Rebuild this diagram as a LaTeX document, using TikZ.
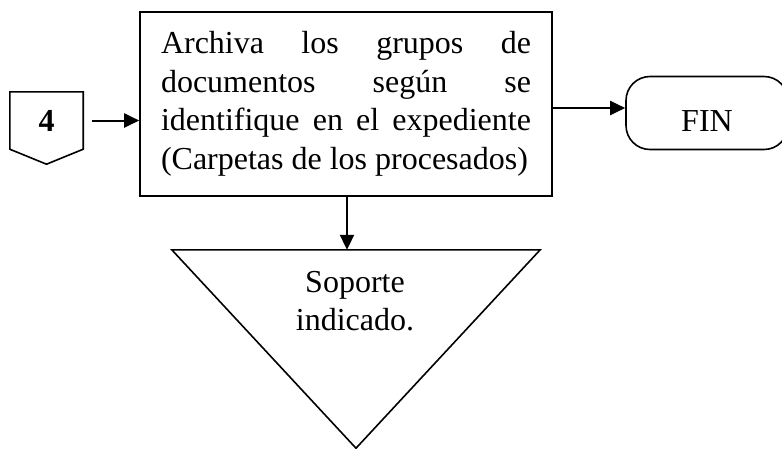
\documentclass[tikz,border=0pt]{standalone}
\usepackage{fontspec}
\setmainfont{Liberation Serif}
\usetikzlibrary{shapes,arrows,positioning,calc,arrows.meta}
\hyphenpenalty=10000
\tolerance=10000

\begin{document}
\begin{tikzpicture}[x=1pt,y=-1pt,
    font=\fontsize{32}{38.5}\selectfont,
    linea/.style={line width=1.6pt},
    flecha/.style={-{Triangle[length=15pt,width=14pt]}, line width=2pt},
    proceso/.style={draw, linea, minimum width=412pt, minimum height=184pt,
        text width=370pt, align=justify, inner sep=0pt},
    terminal/.style={draw, linea, rounded corners=24pt, minimum width=162pt,
        minimum height=73pt, inner sep=0pt, text height=37pt}]
    \useasboundingbox (0,0) rectangle (782,448);

    % conector de pagina
    \node[minimum width=73pt, minimum height=57pt, inner sep=0pt, font=\fontsize{32}{38.5}\selectfont\bfseries] (conector) at (46.5,120.5) {4};
    \draw[linea] (conector.north west) -- (conector.north east) -- (conector.south east)
        -- ($(conector.south)+(0,15)$) -- (conector.south west) -- cycle;

    % actividad
    \node[proceso] (caja) at (346,104) {Archiva los grupos de\linebreak documentos según se\linebreak identifique en el expediente\linebreak (Carpetas de los procesados)};

    % fin
    \node[terminal] (fin) at (707,113) {FIN};

    % almacenamiento
    \node[minimum width=368pt, minimum height=198pt, inner sep=0pt] (archivo) at (356,349) {};
    \draw[linea] (archivo.north west) -- (archivo.north east) -- (archivo.south) -- cycle;
    \node[align=center] (soporte) at (355,301) {Soporte\\indicado.};

    \draw[flecha, shorten <=9pt] (conector.east) -- (conector.east -| caja.west);
    \draw[flecha] ($(caja.east |- fin.west)+(0,-5)$) -- ($(fin.west)+(0,-5)$);
    \draw[flecha] (caja.south -| 347,0) -- (archivo.north -| 347,0);
\end{tikzpicture}
\end{document}
